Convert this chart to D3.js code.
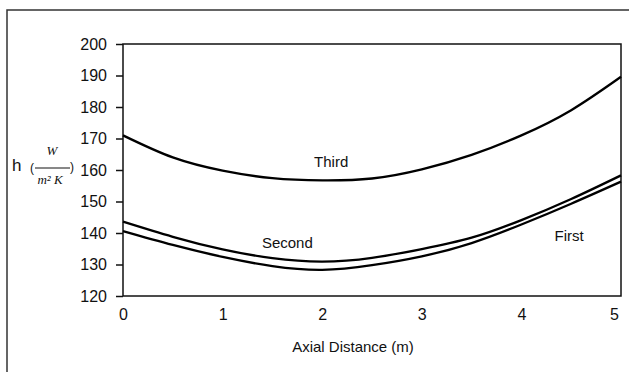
<!DOCTYPE html>
<html>
<head>
<meta charset="utf-8">
<script src="https://cdn.jsdelivr.net/npm/d3@7"></script>
<style>
  body { margin: 0; background: #fff; }
  svg { display: block; font-family: "Liberation Sans", Arial, sans-serif; }
  .line { fill: none; stroke: #000; stroke-width: 2.3px; }
</style>
</head>
<body>
<div id="chart"></div>
<script>
// axial distance (m)
var distance = [0, 0.5, 1, 1.5, 2, 2.5, 3, 3.5, 4, 4.5, 5];
// heat transfer coefficient h, W/(m^2 K)
var first  = [140.6, 136.2, 132.4, 129.5, 128.3, 129.8, 132.6, 136.8, 142.7, 149.3, 156.3];
var second = [143.6, 138.8, 134.8, 132.0, 130.9, 132.1, 134.9, 138.5, 144.1, 150.8, 158.3];
var third  = [171.0, 164.0, 159.8, 157.4, 156.7, 157.3, 160.2, 164.8, 171.0, 179.0, 189.6];
var xTicks = [0, 1, 2, 3, 4, 5];
var yTicks = [120, 130, 140, 150, 160, 170, 180, 190, 200];

var margin = {top: 44, right: 8, bottom: 76, left: 123},
    width = 629 - margin.left - margin.right,
    height = 372 - margin.top - margin.bottom;

var svg = d3.select("#chart")
    .append("svg")
        .attr("width", 629)
        .attr("height", 372);

// outer frame (only left and top edges are in view)
svg.append("rect")
    .attr("x", 7).attr("y", 10)
    .attr("width", 660).attr("height", 420)
    .attr("fill", "none")
    .attr("stroke", "#333")
    .attr("stroke-width", 1.5);

var g = svg.append("g")
    .attr("transform", "translate(" + margin.left + "," + margin.top + ")");

var x = d3.scaleLinear().domain([0, 5]).range([0, width]);
var y = d3.scaleLinear().domain([120, 200]).range([height, 0]);

// plot box
g.append("rect")
    .attr("width", width)
    .attr("height", height)
    .attr("fill", "none")
    .attr("stroke", "#111")
    .attr("stroke-width", 1.5);

// Y axis
var yAxis = d3.axisLeft(y)
    .tickValues(yTicks)
    .tickSize(7)
    .tickPadding(9);

g.append("g")
    .attr("class", "y axis")
    .call(yAxis)
    .call(function (a) {
        a.select(".domain").remove();
        a.selectAll("line").attr("stroke", "#111").attr("stroke-width", 1.5);
        a.selectAll("text").attr("fill", "#111")
            .attr("font-family", "'Liberation Sans', Arial, sans-serif")
            .style("font-size", "16px");
    });

// X axis (labels only)
var xAxis = d3.axisBottom(x)
    .tickValues(xTicks)
    .tickFormat(d3.format("d"))
    .tickSize(0)
    .tickPadding(13);

g.append("g")
    .attr("class", "x axis")
    .attr("transform", "translate(0," + height + ")")
    .call(xAxis)
    .call(function (a) {
        a.select(".domain").remove();
        a.selectAll("text").attr("fill", "#111")
            .attr("font-family", "'Liberation Sans', Arial, sans-serif")
            .style("font-size", "16px")
            .attr("dx", function (d) { return d === 5 ? -7 : 0; });
    });

// curves
var valueline = d3.line()
    .x(function (d) { return x(d[0]); })
    .y(function (d) { return y(d[1]); })
    .curve(d3.curveNatural);

[first, second, third].forEach(function (s) {
    g.append("path")
        .attr("class", "line")
        .attr("d", valueline(d3.zip(distance, s)));
});

// curve labels
var labels = [
    {text: "Third", x: 2.09, y: 161.0},
    {text: "Second", x: 1.65, y: 135.2},
    {text: "First", x: 4.48, y: 137.5}
];
g.selectAll(".curve-label")
    .data(labels)
    .enter()
    .append("text")
    .attr("class", "curve-label")
    .attr("x", function (d) { return x(d.x); })
    .attr("y", function (d) { return y(d.y); })
    .attr("text-anchor", "middle")
    .attr("font-size", 15)
    .attr("fill", "#111")
    .text(function (d) { return d.text; });

// x axis title
svg.append("text")
    .attr("x", 353)
    .attr("y", 352)
    .attr("text-anchor", "middle")
    .attr("font-size", 15)
    .attr("fill", "#111")
    .text("Axial Distance (m)");

// y axis title: h (W / m²K)
var yt = svg.append("g").attr("transform", "translate(0,168)");
yt.append("text").attr("x", 12).attr("y", 3).attr("font-size", 17).attr("fill", "#111").text("h");
yt.append("text").attr("x", 30).attr("y", 4).attr("font-size", 12).attr("fill", "#111").text("(");
yt.append("text").attr("x", 52).attr("y", -13).attr("text-anchor", "middle")
    .attr("font-size", 13).attr("font-style", "italic").attr("font-family", "'Liberation Serif', serif")
    .attr("fill", "#111").text("W");
yt.append("line").attr("x1", 35).attr("x2", 70).attr("y1", 0).attr("y2", 0)
    .attr("stroke", "#111").attr("stroke-width", 1);
yt.append("text").attr("x", 50).attr("y", 16).attr("text-anchor", "middle")
    .attr("font-size", 13).attr("font-style", "italic").attr("font-family", "'Liberation Serif', serif")
    .attr("fill", "#111").text("m\u00b2 K");
yt.append("text").attr("x", 70).attr("y", 3).attr("font-size", 12).attr("fill", "#111").text(")");
</script>
</body>
</html>
